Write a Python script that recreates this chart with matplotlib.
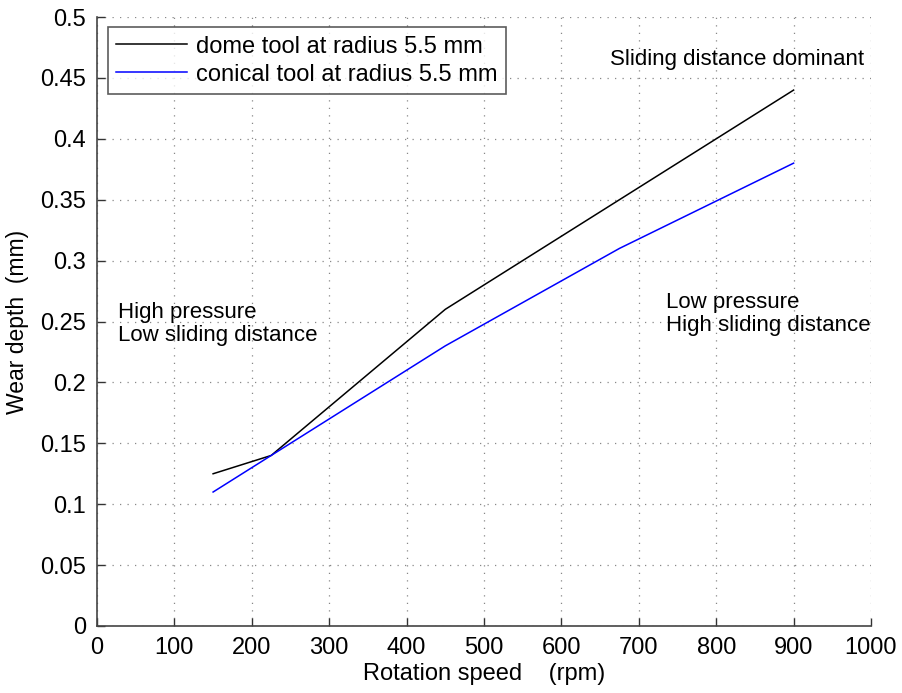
import matplotlib
matplotlib.use("Agg")
import matplotlib.pyplot as plt

plt.rcParams['font.family'] = ['Liberation Sans', 'DejaVu Sans']

speed = [150, 225, 450, 675, 900]
dome = [0.125, 0.14, 0.26, 0.35, 0.44]
conical = [0.11, 0.14, 0.23, 0.31, 0.38]
xticks = list(range(0, 1001, 100))
yticks = [0, 0.05, 0.1, 0.15, 0.2, 0.25, 0.3, 0.35, 0.4, 0.45, 0.5]
ylabels = ['0', '0.05', '0.1', '0.15', '0.2', '0.25', '0.3', '0.35', '0.4', '0.45', '0.5']

fig = plt.figure(figsize=(9.02, 6.93), dpi=100)
ax = fig.add_axes([97/902, 1-626/693, (871-97)/902, (626-17)/693])

ax.plot(speed, dome, color='black', lw=1.1, label='dome tool at radius 5.5 mm')
ax.plot(speed, conical, color='#0000ff', lw=1.1, label='conical tool at radius 5.5 mm')

ax.set_xlim(0, 1000)
ax.set_ylim(0, 0.5)
ax.set_xticks(xticks)
ax.set_yticks(yticks)
ax.set_yticklabels(ylabels)
ax.tick_params(direction='in', labelsize=17, length=6, width=1, color='#333333', pad=8)
for s in ['top', 'right']:
    ax.spines[s].set_visible(False)
for s in ['left', 'bottom']:
    ax.spines[s].set_color('#444444')
    ax.spines[s].set_linewidth(1.2)
ax.grid(True, linestyle=(0, (1, 5)), color='#888888', lw=0.9)
ax.set_axisbelow(True)

ax.set_xlabel('Rotation speed    (rpm)', fontsize=17, labelpad=3)
ax.set_ylabel('Wear depth  (mm)', fontsize=16.5, labelpad=8)

leg = ax.legend(loc='upper left', bbox_to_anchor=(0.014, 0.983), fontsize=17, frameon=True,
                fancybox=False, edgecolor='#333333', handlelength=3.0, borderpad=0.35,
                labelspacing=0.25, handletextpad=0.4, borderaxespad=0)
leg.get_frame().set_linewidth(1.2)

ax.text(663, 0.465, 'Sliding distance dominant', fontsize=16, va='center', ha='left')
ax.text(27, 0.248, 'High pressure\nLow sliding distance', fontsize=16, va='center', ha='left', linespacing=1.15)
ax.text(735, 0.256, 'Low pressure\nHigh sliding distance', fontsize=16, va='center', ha='left', linespacing=1.15)

fig.savefig('out.png', dpi=100)
